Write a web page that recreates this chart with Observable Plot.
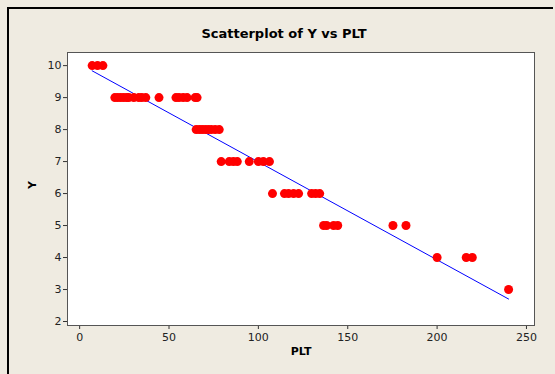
<!DOCTYPE html>
<html>
<head>
<meta charset="utf-8">
<script src="https://cdn.jsdelivr.net/npm/d3@7"></script>
<script src="https://cdn.jsdelivr.net/npm/@observablehq/plot@0.6"></script>
<style>
  html, body { margin: 0; padding: 0; background: #EFEBE1; overflow: hidden; width: 555px; height: 374px; }
  #wrap { position: relative; width: 555px; height: 374px; overflow: hidden; }
  .edge { position: absolute; background: #000; pointer-events: none; }
  #edgeTop { left: 7px; top: 7px; width: 546px; height: 2px; }
  #edgeLeft { left: 7px; top: 7px; width: 2px; height: 367px; }
</style>
</head>
<body>
<div id="wrap"><div class="edge" id="edgeTop"></div><div class="edge" id="edgeLeft"></div></div>
<script>
const title = "Scatterplot of Y vs PLT";
const xLabel = "PLT";
const yLabel = "Y";
const xTicks = [0, 50, 100, 150, 200, 250];
const yTicks = [2, 3, 4, 5, 6, 7, 8, 9, 10];

const plt = [
  7, 10, 13,
  19.7, 21.3, 23, 24.7, 26.4, 27.5, 30.3, 33.1, 34.8, 37, 44.4, 53.9, 55.6, 57.9, 60.1, 64.6, 65.7,
  65.2, 66.9, 68.5, 70.2, 71.9, 73.6, 75.8, 78.1,
  79.2, 83.7, 86, 88.2, 94.9, 100, 102.8, 106.2,
  107.9, 114.6, 116.9, 119.7, 122.5, 129.8, 132, 134.3,
  136.5, 138.2, 142.1, 144.4, 175.3, 182.6,
  200, 216.3, 219.7,
  240
];
const yVals = [
  10, 10, 10,
  9, 9, 9, 9, 9, 9, 9, 9, 9, 9, 9, 9, 9, 9, 9, 9, 9,
  8, 8, 8, 8, 8, 8, 8, 8,
  7, 7, 7, 7, 7, 7, 7, 7,
  6, 6, 6, 6, 6, 6, 6, 6,
  5, 5, 5, 5, 5, 5,
  4, 4, 4,
  3
];

const data = plt.map((p, i) => ({PLT: p, Y: yVals[i]}));
const font = "'DejaVu Sans', Verdana, sans-serif";

const chart = Plot.plot({
  width: 555,
  height: 374,
  marginLeft: 67,
  marginRight: 21,
  marginTop: 52,
  marginBottom: 49,
  style: {background: "transparent", fontFamily: font, fontSize: "11px", color: "#222"},
  x: {domain: [-6.8, 254.5]},
  y: {domain: [1.875, 10.41]},
  marks: [
    Plot.frame({fill: "white", stroke: "none"}),
    Plot.axisX({ticks: xTicks, tickSize: 4, tickPadding: 4, label: null, stroke: "#333"}),
    Plot.axisY({ticks: yTicks, tickSize: 4, tickPadding: 2, label: null, stroke: "#333"}),
    Plot.linearRegressionY(data, {x: "PLT", y: "Y", ci: 0, stroke: "#0000FF", strokeWidth: 1}),
    Plot.dot(data, {x: "PLT", y: "Y", r: 4.5, fill: "#FF0000", stroke: "none"}),
    Plot.frame({stroke: "#555", strokeWidth: 1}),
    Plot.text([title], {frameAnchor: "top", dx: -17, dy: -24, fontWeight: "bold", fontSize: 13, fill: "#000"}),
    Plot.text([xLabel], {frameAnchor: "bottom", dy: 29, fontWeight: "bold", fontSize: 11, fill: "#000"}),
    Plot.text([yLabel], {frameAnchor: "left", dx: -35, rotate: -90, fontWeight: "bold", fontSize: 11, fill: "#000"})
  ]
});
document.getElementById("wrap").prepend(chart);
chart.style.position = "absolute";
chart.style.left = "0";
chart.style.top = "0";
</script>
</body>
</html>
